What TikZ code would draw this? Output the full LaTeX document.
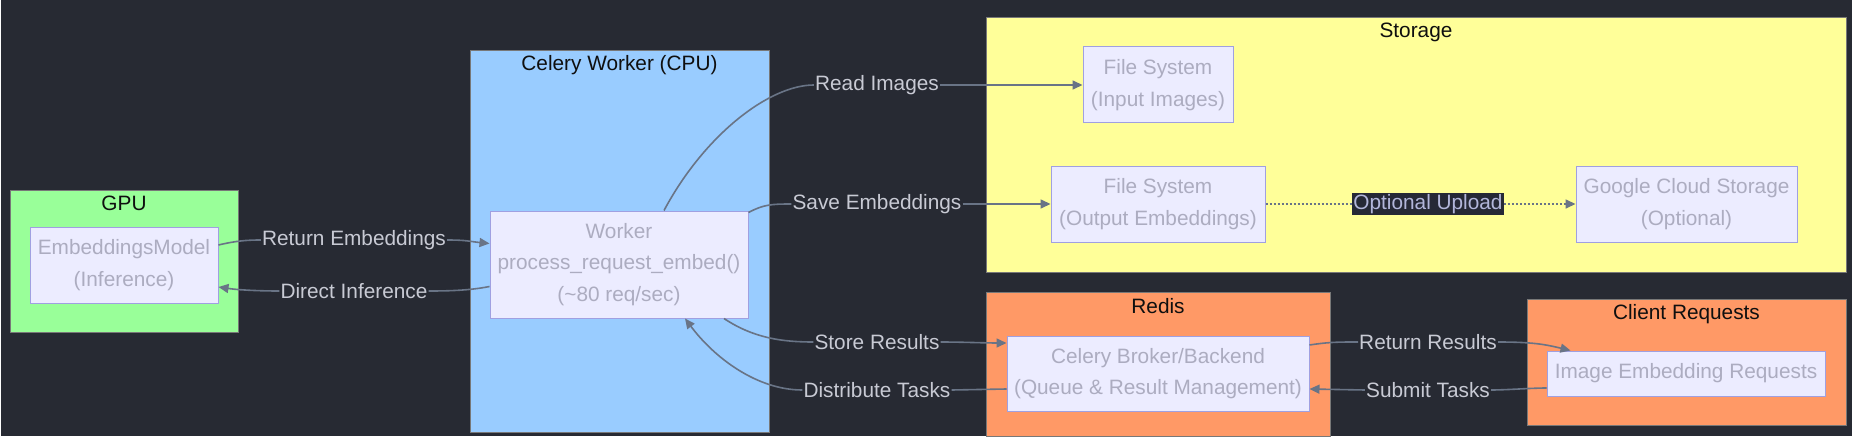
\documentclass[tikz,border=0pt]{standalone}
\usepackage{fontspec}
\setmainfont{Liberation Sans}
\usetikzlibrary{arrows.meta,calc}
\definecolor{bg}{RGB}{39,42,51}
\definecolor{gpufill}{RGB}{153,255,153}
\definecolor{cpufill}{RGB}{153,204,255}
\definecolor{stofill}{RGB}{255,255,153}
\definecolor{orfill}{RGB}{255,153,102}
\definecolor{clborder}{RGB}{120,120,120}
\definecolor{cltext}{RGB}{15,15,15}
\definecolor{nodefill}{RGB}{236,236,255}
\definecolor{nodeborder}{RGB}{160,160,225}
\definecolor{nodetext}{RGB}{172,172,192}
\definecolor{edgecol}{RGB}{105,116,134}
\definecolor{lbltext}{RGB}{200,202,212}
\definecolor{oubg}{RGB}{38,41,54}
\definecolor{outext}{RGB}{178,182,218}
\begin{document}
\begin{tikzpicture}[x=1pt,y=-1pt,
  cluster/.style={draw=clborder, line width=0.8pt, inner sep=0pt},
  cltitle/.style={text=cltext, font=\fontsize{20.8}{25}\selectfont, inner sep=0pt, anchor=center},
  box/.style={draw=nodeborder, fill=nodefill, line width=1pt, text=nodetext, align=center,
              font=\fontsize{20.8}{31.5}\selectfont, inner sep=0pt},
  lbl/.style={text=lbltext, font=\fontsize{20.8}{25}\selectfont, inner sep=1pt, fill=bg},
  edge/.style={draw=edgecol, line width=1.6pt},
  arr/.style={-{Triangle[length=10pt,width=9pt]}},
]
\useasboundingbox (0,0) rectangle (1852,441);
\fill[white] (0,0) rectangle (1852,441);
\fill[bg] (1,0) rectangle (1852,436);

% clusters
\node[cluster, fill=gpufill, minimum width=228, minimum height=142] (gpu) at (124,261) {};
\node[cluster, fill=cpufill, minimum width=299, minimum height=382] (cpu) at (619.5,241) {};
\node[cluster, fill=stofill, minimum width=860, minimum height=255] (sto) at (1416,144.5) {};
\node[cluster, fill=orfill, minimum width=344, minimum height=144] (redis) at (1158,364) {};
\node[cluster, fill=orfill, minimum width=319, minimum height=126] (cli) at (1686.5,362) {};

\node[cltitle] (gpuT) at (124,203) {GPU};
\node[cltitle] (cpuT) at (619.5,65) {Celery Worker (CPU)};
\node[cltitle] (stoT) at (1416,32) {Storage};
\node[cltitle] (redisT) at (1158,306) {Redis};
\node[cltitle] (cliT) at (1686.5,314) {Client Requests};

% nodes
\node[box, minimum width=188, minimum height=76] (emb) at (124,265) {EmbeddingsModel\\(Inference)};
\node[box, minimum width=258, minimum height=107] (worker) at (619,264.5) {Worker\\process\_request\_embed()\\(\textasciitilde 80 req/sec)};
\node[box, minimum width=150, minimum height=76] (fsin) at (1158,85) {File System\\(Input Images)};
\node[box, minimum width=214, minimum height=76] (fsout) at (1158,204) {File System\\(Output Embeddings)};
\node[box, minimum width=221, minimum height=76] (gcs) at (1686.5,204) {Google Cloud Storage\\(Optional)};
\node[box, minimum width=302, minimum height=75] (broker) at (1158,373.5) {Celery Broker/Backend\\(Queue \& Result Management)};
\node[box, minimum width=278, minimum height=45] (client) at (1686,373.5) {Image Embedding Requests};

% edge labels
\node[lbl] (lRE) at (354,240) {Return Embeddings};
\node[lbl] (lDI) at (354,291) {Direct Inference};
\node[lbl] (lRI) at (877,85) {Read Images};
\node[lbl] (lSE) at (877,204) {Save Embeddings};
\node[lbl] (lSR) at (877,342) {Store Results};
\node[lbl] (lDT) at (877,390) {Distribute Tasks};
\node[lbl, fill=oubg, text=outext] (lOU) at (1428,204) {Optional Upload};
\node[lbl] (lRR) at (1428,342) {Return Results};
\node[lbl] (lST) at (1428,390) {Submit Tasks};

% edges
\draw[edge] ($(emb.east)+(0,-20)$) .. controls +(17,-4) and +(-15,0) .. (lRE.west);
\draw[edge,arr] (lRE.east) .. controls +(20,0) and +(-20,-2) .. ($(worker.west)+(0,-21)$);

\draw[edge] ($(worker.west)+(0,22)$) .. controls +(-20,4) and +(20,0) .. (lDI.east);
\draw[edge,arr] (lDI.west) .. controls +(-20,0) and +(20,3) .. ($(emb.east)+(0,22)$);

\draw[edge] ($(worker.north)+(45,0)$) .. controls +(40,-75) and +(-45,0) .. (lRI.west);
\draw[edge,arr] (lRI.east) -- (fsin.west);

\draw[edge] ($(worker.north east)+(0,2)$) .. controls +(15,-8) and +(-20,0) .. (lSE.west);
\draw[edge,arr] (lSE.east) -- (fsout.west);

\draw[edge] ($(worker.south)+(105,0)$) .. controls +(30,20) and +(-30,0) .. (lSR.west);
\draw[edge,arr] (lSR.east) .. controls +(20,0) and +(-20,0) .. ($(broker.west)+(0,-30.5)$);

\draw[edge] ($(broker.west)+(0,15.5)$) -- (lDT.east);
\draw[edge,arr] (lDT.west) .. controls +(-45,0) and +(30,40) .. ($(worker.south)+(66,0)$);

\draw[edge,dash pattern=on 2pt off 2pt] (fsout.east) -- (lOU.west);
\draw[edge,dash pattern=on 2pt off 2pt,arr] (lOU.east) -- (gcs.west);

\draw[edge] ($(broker.east)+(0,-28.5)$) .. controls +(20,-3) and +(-20,0) .. (lRR.west);
\draw[edge,arr] (lRR.east) .. controls +(35,0) and +(-25,-6) .. ($(client.north west)+(24,0)$);

\draw[edge] ($(client.west)+(0,14.5)$) .. controls +(-15,0) and +(15,0) .. (lST.east);
\draw[edge,arr] (lST.west) -- ($(broker.east)+(0,15.5)$);
\end{tikzpicture}
\end{document}
